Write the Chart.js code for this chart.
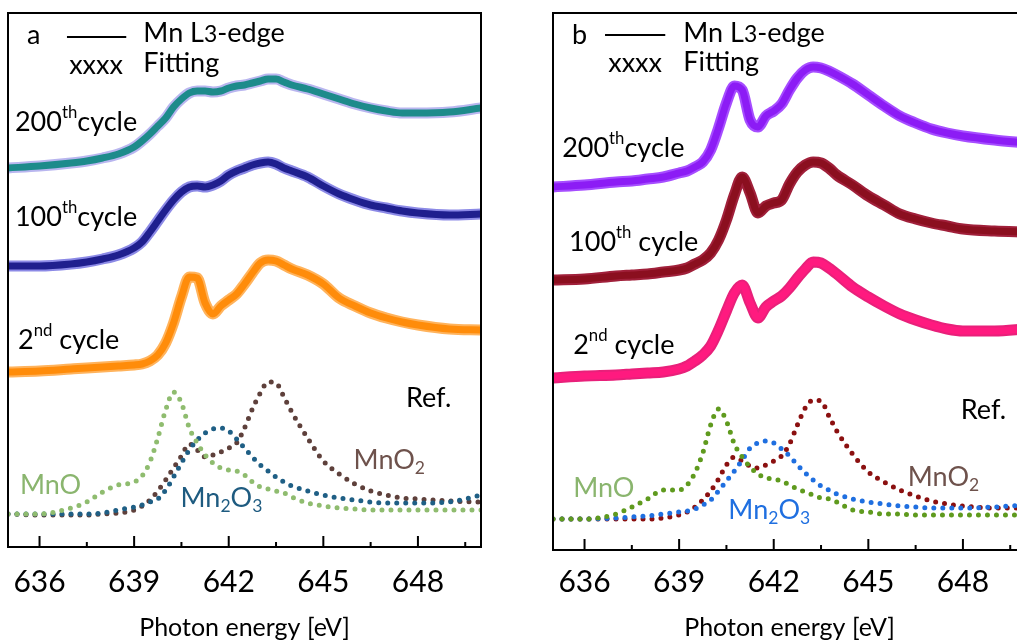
<!DOCTYPE html>
<html><head><meta charset="utf-8">
<script src="https://cdn.jsdelivr.net/npm/chart.js@4/dist/chart.umd.min.js"></script>
<style>
html,body{margin:0;padding:0;background:#fff;overflow:hidden;width:1017px;height:643px;}
#wrap{position:relative;width:1017px;height:643px;overflow:hidden;background:#fff;}
canvas{position:absolute;top:0;}
#ca{left:0;} #cb{left:540px;}
</style></head><body>
<div id="wrap"><canvas id="ca" width="500" height="643"></canvas><canvas id="cb" width="500" height="643"></canvas></div>
<script>
// Photon energy grid (eV)
const energies = [635,636,637,637.5,638,638.5,639,639.25,639.5,639.75,640,640.25,640.5,640.75,641,641.25,641.5,641.75,642,642.25,642.5,642.75,643,643.25,643.5,643.75,644,644.5,645,645.5,646,646.5,647,647.5,648,649,650];
const majorTicks = [636,639,642,645,648];
const minorTicks = [637.5,640.5,643.5,646.5,649.5];

// Panel a (stacked intensities, a.u.)
const a_cycle200 = [37.9,38.1,38.4,38.6,38.9,39.3,40.0, 40.6,41.3,42.1,42.9, 44.0,44.8,45.4,45.6, 45.6,45.5,45.6,45.9, 46.1,46.2,46.4,46.6, 46.8,46.8,46.5,46.2, 45.8,45.3,44.8,44.3, 43.9,43.6,43.4,43.4, 43.5,43.9];
const a_cycle100 = [28.1,28.1,28.3,28.5,28.8,29.2,29.9, 30.5,31.5,32.6,33.7, 34.7,35.5,36.0,36.1, 36.0,36.2,36.6,37.2, 37.6,37.9,38.2,38.4, 38.5,38.3,37.9,37.6, 37.0,36.1,35.3,34.7, 34.2,33.9,33.6,33.4, 33.2,33.3];
const a_cycle2 = [17.5,17.6,17.8,17.9,18.0,18.1,18.2, 18.3,18.6,19.2,20.4, 22.4,25.0,27.0,26.9, 24.4,23.3,24.1,24.7, 25.3,26.3,27.4,28.4, 28.7,28.6,28.2,27.8, 27.2,26.3,24.9,24.1, 23.4,22.9,22.5,22.2, 21.8,21.7];
const a_MnO = [3.3,3.3,3.9,4.5,5.5,6.2,6.5, 7.1,8.5,10.9,13.7, 15.5,14.4,11.9,10.4, 9.2,8.4,7.9,7.7, 7.6,7.2,6.5,6.0, 5.8,5.6,5.4,5.0, 4.4,4.1,3.9,3.8, 3.7,3.7,3.7,3.7, 3.7,3.7];
const a_MnO2 = [3.3,3.2,3.2,3.2,3.3,3.4,3.7, 4.1,4.7,5.6,6.7, 7.9,9.1,10.3,9.7, 9.0,9.2,9.5,9.9, 10.4,11.9,13.8,15.4, 16.5,16.4,15.0,13.5, 10.9,8.6,7.3,6.3, 5.6,5.2,4.9,4.8, 4.6,4.5];
const a_Mn2O3 = [3.3,3.3,3.3,3.3,3.4,3.7,4.0, 4.2,4.5,4.8,5.7, 7.0,8.4,9.7,10.7, 11.4,11.8,11.9,11.6, 10.8,9.9,9.0,8.2, 7.6,7.0,6.5,6.1, 5.6,5.2,4.9,4.7, 4.5,4.4,4.4,4.4, 4.5,5.2];

// Panel b
const b_cycle200 = [36.3,36.5,36.8,36.9,37.1,37.3,37.7, 37.9,38.3,38.8,40.0, 42.2,44.7,46.4,46.0, 43.0,42.3,43.4,43.9, 44.6,46.0,47.2,48.0, 48.3,48.2,47.9,47.5, 46.6,45.5,44.4,43.4, 42.7,42.1,41.7,41.4, 41.0,40.7];
const b_cycle100 = [27.0,27.1,27.4,27.5,27.6,27.8,28.0, 28.2,28.6,29.0,29.7, 31.0,33.0,35.5,37.3, 35.7,33.7,34.4,34.7, 35.0,36.6,37.8,38.5, 38.8,38.7,38.2,37.5, 36.5,35.4,34.5,33.6, 33.1,32.7,32.4,32.1, 31.9,31.8];
const b_cycle2 = [17.2,17.4,17.5,17.6,17.7,17.8,18.1, 18.4,18.9,19.5,20.4, 22.0,23.9,25.7,26.5, 24.7,23.2,24.3,24.9, 25.4,26.2,27.2,28.1, 28.8,28.7,28.2,27.6, 26.3,25.3,24.4,23.6, 23.0,22.5,22.1,21.9, 21.9,22.1];
const b_MnO = [3.1,3.1,3.6,4.3,5.1,6.0,6.0, 6.5,7.7,9.7,12.5, 14.1,12.9,10.6,9.3, 8.3,7.6,7.2,7.1, 6.9,6.5,6.1,5.8, 5.5,5.2,5.1,4.8, 4.0,3.8,3.6,3.6, 3.5,3.5,3.5,3.5, 3.5,3.5];
const b_MnO2 = [3.1,3.1,3.1,3.1,3.1,3.2,3.5, 3.8,4.3,5.0,5.9, 7.1,8.5,9.3,8.9, 8.4,8.2,8.5,8.9, 9.4,10.6,12.5,14.2, 15.0,14.9,13.4,11.9, 9.6,7.8,6.8,6.0, 5.4,4.9,4.6,4.4, 4.2,4.2];
const b_Mn2O3 = [3.1,3.1,3.2,3.3,3.4,3.6,3.8, 3.9,4.1,4.5,5.0, 5.9,6.9,7.9,9.0, 10.2,10.7,10.9,10.7, 10.1,9.4,8.5,7.7, 7.0,6.4,6.0,5.6, 5.1,4.8,4.6,4.4, 4.3,4.2,4.2,4.2, 4.3,4.5];

const FONT = 'Lato';
function pts(vals){ return energies.map((e,i)=>({x:e,y:vals[i]})); }
const common = {pointRadius:0, fill:false, cubicInterpolationMode:'monotone'};
function cycleSets(vals, main, halo){
  return [
    Object.assign({data:pts(vals), borderColor:halo, borderWidth:11, order:2}, common),
    Object.assign({data:pts(vals), borderColor:main, borderWidth:7, order:1}, common)
  ];
}
function refSet(vals, color){
  return Object.assign({data:pts(vals), borderColor:color, borderWidth:5, borderDash:[0,9], borderCapStyle:'round', order:3}, common);
}

function drawRich(ctx, x, y, segs, size, color){
  let cx = x;
  for (const s of segs){
    const k = s.k || 1;
    ctx.font = (size*k) + 'px ' + FONT;
    ctx.fillStyle = color;
    ctx.fillText(s.t, cx, y + (s.dy||0)*size);
    cx += ctx.measureText(s.t).width;
  }
}
const SUP = {k:0.62, dy:-0.33}, SUB = {k:0.65, dy:0.3}, SMALL = {k:0.85, dy:0.06};
function seg(t, m){ return Object.assign({t}, m||{}); }

function makeDeco(notes, legend){
  return {id:'deco', afterDatasetsDraw(chart){
    const {ctx, chartArea:ca, scales:{x, y}} = chart;
    ctx.save();
    ctx.strokeStyle = '#000'; ctx.lineWidth = 2;
    ctx.strokeRect(ca.left, ca.top, ca.right-ca.left, ca.bottom-ca.top);
    ctx.beginPath();
    majorTicks.forEach(v=>{const p=x.getPixelForValue(v); ctx.moveTo(p, ca.bottom); ctx.lineTo(p, ca.bottom-11);});
    minorTicks.forEach(v=>{const p=x.getPixelForValue(v); ctx.moveTo(p, ca.bottom); ctx.lineTo(p, ca.bottom-5);});
    ctx.stroke();
    ctx.beginPath();
    ctx.moveTo(x.getPixelForValue(legend.x0), y.getPixelForValue(legend.y));
    ctx.lineTo(x.getPixelForValue(legend.x1), y.getPixelForValue(legend.y));
    ctx.stroke();
    ctx.textBaseline = 'middle'; ctx.textAlign = 'left';
    notes.forEach(n=>drawRich(ctx, x.getPixelForValue(n.x), y.getPixelForValue(n.y), n.segs, n.size, n.color));
    ctx.restore();
  }};
}

function makeChart(id, datasets, pad, yMax, axisH, tickPad, notes, legend){
  return new Chart(document.getElementById(id), {
    type:'line',
    data:{datasets},
    options:{
      responsive:false, animation:false, devicePixelRatio:1,
      layout:{padding:{left:pad.l, right:pad.r, top:13, bottom:0}},
      plugins:{legend:{display:false}, tooltip:{enabled:false}},
      scales:{
        x:{type:'linear', min:635, max:650,
           afterBuildTicks:s=>{ s.ticks = majorTicks.map(v=>({value:v})); },
           afterFit:s=>{ s.height = axisH; },
           grid:{display:false}, border:{display:false},
           ticks:{font:{family:FONT, size:30}, color:'#000', padding:tickPad, maxRotation:0, autoSkip:false,
                  callback:v=>String(v)},
           title:{display:true, text:'Photon energy [eV]', font:{family:FONT, size:25}, color:'#000', padding:{top:0, bottom:0}}},
        y:{display:false, min:0, max:yMax}
      }
    },
    plugins:[makeDeco(notes, legend)]
  });
}

const S = 27;
const notesA = [
  {x:635.6, y:51.2, segs:[seg('a')], size:S, color:'#000'},
  {x:639.29, y:51.4, segs:[seg('Mn L'), seg('3',SMALL), seg('-edge')], size:S, color:'#000'},
  {x:636.94, y:48.2, segs:[seg('xxxx')], size:S, color:'#000'},
  {x:639.29, y:48.4, segs:[seg('Fitting')], size:S, color:'#000'},
  {x:635.22, y:42.5, segs:[seg('200'), seg('th',SUP), seg('cycle')], size:S, color:'#000'},
  {x:635.22, y:33.0, segs:[seg('100'), seg('th',SUP), seg('cycle')], size:S, color:'#000'},
  {x:635.32, y:20.7, segs:[seg('2'), seg('nd',SUP), seg(' cycle')], size:S, color:'#000'},
  {x:647.62, y:14.9, segs:[seg('Ref.')], size:S, color:'#000'},
  {x:635.38, y:6.2, segs:[seg('MnO')], size:S, color:'#8ab56e'},
  {x:640.47, y:4.9, segs:[seg('Mn'), seg('2',SUB), seg('O'), seg('3',SUB)], size:S, color:'#1e5b80'},
  {x:645.96, y:8.7, segs:[seg('MnO'), seg('2',SUB)], size:S, color:'#6e524c'}
];
const notesB = [
  {x:635.6, y:51.5, segs:[seg('b')], size:S, color:'#000'},
  {x:639.13, y:51.7, segs:[seg('Mn L'), seg('3',SMALL), seg('-edge')], size:S, color:'#000'},
  {x:636.75, y:48.7, segs:[seg('xxxx')], size:S, color:'#000'},
  {x:639.13, y:48.8, segs:[seg('Fitting')], size:S, color:'#000'},
  {x:635.29, y:40.2, segs:[seg('200'), seg('th',SUP), seg('cycle')], size:S, color:'#000'},
  {x:635.51, y:30.8, segs:[seg('100'), seg('th',SUP), seg(' cycle')], size:S, color:'#000'},
  {x:635.64, y:20.5, segs:[seg('2'), seg('nd',SUP), seg(' cycle')], size:S, color:'#000'},
  {x:647.93, y:14.0, segs:[seg('Ref.')], size:S, color:'#000'},
  {x:635.64, y:6.2, segs:[seg('MnO')], size:S, color:'#8ab56e'},
  {x:640.56, y:4.0, segs:[seg('Mn'), seg('2',SUB), seg('O'), seg('3',SUB)], size:S, color:'#1f6fe0'},
  {x:646.25, y:7.3, segs:[seg('MnO'), seg('2',SUB)], size:S, color:'#6e524c'}
];

const dsA = [
  refSet(a_MnO, '#8fbc6f'), refSet(a_Mn2O3, '#1f5f85'), refSet(a_MnO2, '#5e403b'),
  ...cycleSets(a_cycle2, '#ff8c0a', '#ffb35c'),
  ...cycleSets(a_cycle100, '#1f1f8e', '#8c8ae6'),
  ...cycleSets(a_cycle200, '#1d8b8b', '#b9b6ef')
];
const dsB = [
  refSet(b_MnO, '#5f9a1e'), refSet(b_Mn2O3, '#1f6fe0'), refSet(b_MnO2, '#8b1010'),
  ...cycleSets(b_cycle2, '#ff1a7f', '#e8207a'),
  ...cycleSets(b_cycle100, '#8b0f1f', '#a0203a'),
  ...cycleSets(b_cycle200, '#8c1cf5', '#a64dff')
];

makeChart('ca', dsA, {l:8, r:19}, 53.4, 96, 9, notesA, {x0:636.87, x1:638.75, y:51.0});
makeChart('cb', dsB, {l:13, r:14}, 53.7, 93, 6, notesB, {x0:636.65, x1:638.56, y:51.5});
</script>
</body></html>
